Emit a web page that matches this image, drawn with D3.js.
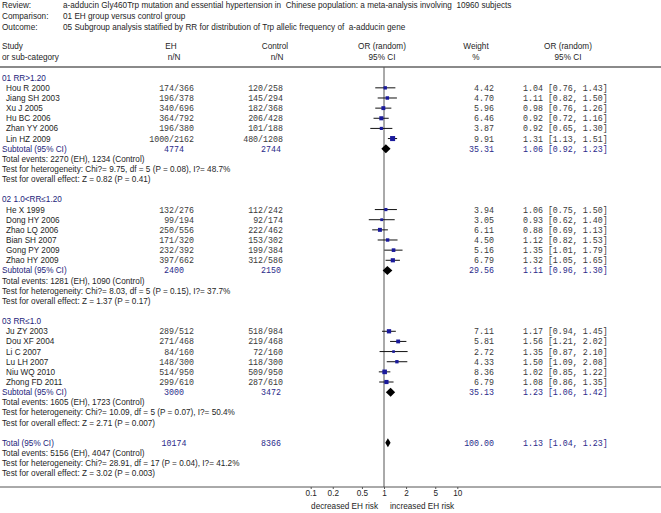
<!DOCTYPE html>
<html>
<head>
<meta charset="utf-8">
<script src="https://cdn.jsdelivr.net/npm/d3@7"></script>
<style>
  body { margin: 0; background: #fff; }
  svg { display: block; }
  text { font-family: "Liberation Sans", Arial, sans-serif; font-size: 8.2px; fill: #1e1e1e; white-space: pre; }
  .mono { font-family: "Liberation Mono", "Courier New", monospace; font-size: 8.3px; fill: #3a3a3a; }
  .navy { fill: #23237a; }
  .mono.navy { fill: #2a2a8a; }
</style>
</head>
<body>
<div id="chart"></div>
<script>
// header text
let reviewText = "a-adducin Gly460Trp mutation and essential hypertension in  Chinese population: a meta-analysis involving  10960 subjects";
let comparisonText = "01 EH group versus control group";
let outcomeText = "05 Subgroup analysis statified by RR for distribution of Trp allelic frequency of  a-adducin gene";

// studies by subgroup
let groupLabels = ["01 RR>1.20", "02 1.0<RR\u22641.20", "03 RR\u22641.0"];
let studyNames = [
    ["Hou R 2000", "Jiang SH 2003", "Xu J 2005", "Hu BC 2006", "Zhan YY 2006", "Lin HZ 2009"],
    ["He X 1999", "Dong HY 2006", "Zhao LQ 2006", "Bian SH 2007", "Gong PY 2009", "Zhao HY 2009"],
    ["Ju ZY 2003", "Dou XF 2004", "Li C 2007", "Lu LH 2007", "Niu WQ 2010", "Zhong FD 2011"]
];
let ehNN = [
    ["174/366", "196/378", "340/696", "364/792", "196/380", "1000/2162"],
    ["132/276", "99/194", "250/556", "171/320", "232/392", "397/662"],
    ["289/512", "271/468", "84/160", "148/300", "514/950", "299/610"]
];
let ctrlNN = [
    ["120/258", "145/294", "182/368", "206/428", "101/188", "480/1208"],
    ["112/242", "92/174", "222/462", "153/302", "199/384", "312/586"],
    ["518/984", "219/468", "72/160", "118/300", "509/950", "287/610"]
];
let weights = [
    [4.42, 4.70, 5.96, 6.46, 3.87, 9.91],
    [3.94, 3.05, 6.11, 4.50, 5.16, 6.79],
    [7.11, 5.81, 2.72, 4.33, 8.36, 6.79]
];
let orEst = [
    [1.04, 1.11, 0.98, 0.92, 0.92, 1.31],
    [1.06, 0.93, 0.88, 1.12, 1.35, 1.32],
    [1.17, 1.56, 1.35, 1.50, 1.02, 1.08]
];
let orLow = [
    [0.76, 0.82, 0.76, 0.72, 0.65, 1.13],
    [0.75, 0.62, 0.69, 0.82, 1.01, 1.05],
    [0.94, 1.21, 0.87, 1.09, 0.85, 0.86]
];
let orHigh = [
    [1.43, 1.50, 1.26, 1.16, 1.30, 1.51],
    [1.50, 1.40, 1.13, 1.53, 1.79, 1.65],
    [1.45, 2.02, 2.10, 2.08, 1.22, 1.35]
];

// subtotals
let subEH = [4774, 2400, 3000];
let subCtrl = [2744, 2150, 3472];
let subWeight = [35.31, 29.56, 35.13];
let subOR = [1.06, 1.11, 1.23];
let subLow = [0.92, 0.96, 1.06];
let subHigh = [1.23, 1.30, 1.42];
let subEvents = ["2270 (EH), 1234 (Control)", "1281 (EH), 1090 (Control)", "1605 (EH), 1723 (Control)"];
let subHet = ["Chi?= 9.75, df = 5 (P = 0.08), I?= 48.7%", "Chi?= 8.03, df = 5 (P = 0.15), I?= 37.7%", "Chi?= 10.09, df = 5 (P = 0.07), I?= 50.4%"];
let subEffect = ["Z = 0.82 (P = 0.41)", "Z = 1.37 (P = 0.17)", "Z = 2.71 (P = 0.007)"];

// overall
let totEH = 10174, totCtrl = 8366, totWeight = 100.00;
let totOR = 1.13, totLow = 1.04, totHigh = 1.23;
let totEvents = "5156 (EH), 4047 (Control)";
let totHet = "Chi?= 28.91, df = 17 (P = 0.04), I?= 41.2%";
let totEffect = "Z = 3.02 (P = 0.003)";

let axisTicks = [0.1, 0.2, 0.5, 1, 2, 5, 10];

function createForest(container){
    let width = 661;
    let height = 513;

    let x = d3.scaleLog().domain([0.1, 10]).range([310.7, 457.3]);
    let row = d3.scaleLinear().domain([0, 39]).range([77.7, 473.3]);
    let axisY = 487;
    let lineTop = 67;

    let col = {label: 2, study: 6, eh: 194, ctrl: 283, ehSub: 174, ctrlSub: 271, weight: 494, ci: 523};

    let svg = d3.select(container)
        .append("svg")
        .attr("width", width)
        .attr("height", height)
        .attr("viewBox", [0, 0, width, height]);

    let txt = (g, xx, yy, s, cls, anchor) => g.append("text")
        .attr("x", xx)
        .attr("y", yy + 3)
        .attr("class", cls || null)
        .attr("text-anchor", anchor || "start")
        .text(s);

    // title block
    let head = svg.append("g");
    [["Review:", reviewText, 5], ["Comparison:", comparisonText, 16], ["Outcome:", outcomeText, 27]]
        .forEach(([k, v, yy]) => {
            txt(head, col.label, yy, k);
            txt(head, 63, yy, v);
        });

    txt(head, col.label, 46, "Study");
    txt(head, col.label, 57, "or sub-category");
    txt(head, 171, 46, "EH", null, "middle");
    txt(head, 174, 57, "n/N", null, "middle");
    txt(head, 275, 46, "Control", null, "middle");
    txt(head, 277, 57, "n/N", null, "middle");
    txt(head, 382, 46, "OR (random)", null, "middle");
    txt(head, 382, 57, "95% CI", null, "middle");
    txt(head, 476, 46, "Weight", null, "middle");
    txt(head, 476, 57, "%", null, "middle");
    txt(head, 568, 46, "OR (random)", null, "middle");
    txt(head, 568, 57, "95% CI", null, "middle");

    svg.append("line")
        .attr("x1", 0).attr("x2", width)
        .attr("y1", lineTop).attr("y2", lineTop)
        .attr("stroke", "#8a8a8a")
        .attr("stroke-width", 2);

    // line of no effect
    svg.append("line")
        .attr("x1", x(1)).attr("x2", x(1))
        .attr("y1", lineTop).attr("y2", axisY)
        .attr("stroke", "#555")
        .attr("stroke-width", 1);

    let fmt = d3.format(".2f");
    let ciText = (o, l, h) => `${fmt(o)} [${fmt(l)}, ${fmt(h)}]`;

    let body = svg.append("g");
    let marks = svg.append("g");

    let diamond = (yy, o, l, h, half) => marks.append("path")
        .attr("d", `M${x(l)},${yy}L${x(o)},${yy - half}L${x(h)},${yy}L${x(o)},${yy + half}Z`)
        .attr("fill", "#000");

    let r = 0;
    groupLabels.forEach((g, gi) => {
        txt(body, col.label, row(r), g, "navy");
        r++;
        studyNames[gi].forEach((name, si) => {
            let yy = row(r);
            txt(body, col.study, yy, name);
            txt(body, col.eh, yy, ehNN[gi][si], "mono", "end");
            txt(body, col.ctrl, yy, ctrlNN[gi][si], "mono", "end");
            txt(body, col.weight, yy, fmt(weights[gi][si]), "mono", "end");
            txt(body, col.ci, yy, ciText(orEst[gi][si], orLow[gi][si], orHigh[gi][si]), "mono");

            marks.append("line")
                .attr("x1", x(orLow[gi][si])).attr("x2", x(orHigh[gi][si]))
                .attr("y1", yy).attr("y2", yy)
                .attr("stroke", "#111")
                .attr("stroke-width", 1);
            let s = Math.sqrt(weights[gi][si]) * 1.6;
            marks.append("rect")
                .attr("x", x(orEst[gi][si]) - s / 2)
                .attr("y", yy - s / 2)
                .attr("width", s).attr("height", s)
                .attr("fill", "#1a1a9c");
            r++;
        });
        let yy = row(r);
        txt(body, col.label, yy, "Subtotal (95% CI)", "navy");
        txt(body, col.ehSub, yy, String(subEH[gi]), "mono navy", "middle");
        txt(body, col.ctrlSub, yy, String(subCtrl[gi]), "mono navy", "middle");
        txt(body, col.weight, yy, fmt(subWeight[gi]), "mono navy", "end");
        txt(body, col.ci, yy, ciText(subOR[gi], subLow[gi], subHigh[gi]), "mono navy");
        diamond(yy, subOR[gi], subLow[gi], subHigh[gi], 4.5);
        r++;
        txt(body, col.label, row(r++), "Total events: " + subEvents[gi]);
        txt(body, col.label, row(r++), "Test for heterogeneity: " + subHet[gi]);
        txt(body, col.label, row(r++), "Test for overall effect: " + subEffect[gi]);
        r++;
    });

    let ty = row(r);
    txt(body, col.label, ty, "Total (95% CI)", "navy");
    txt(body, col.ehSub, ty, String(totEH), "mono navy", "middle");
    txt(body, col.ctrlSub, ty, String(totCtrl), "mono navy", "middle");
    txt(body, col.weight, ty, fmt(totWeight), "mono navy", "end");
    txt(body, col.ci, ty, ciText(totOR, totLow, totHigh), "mono navy");
    diamond(ty, totOR, totLow, totHigh, 4.5);
    r++;
    txt(body, col.label, row(r++), "Total events: " + totEvents);
    txt(body, col.label, row(r++), "Test for heterogeneity: " + totHet);
    txt(body, col.label, row(r++), "Test for overall effect: " + totEffect);

    // bottom axis
    svg.append("line")
        .attr("x1", 0).attr("x2", width)
        .attr("y1", axisY).attr("y2", axisY)
        .attr("stroke", "#555")
        .attr("stroke-width", 1);

    let axis = svg.append("g")
        .attr("transform", `translate(0,${axisY})`)
        .call(d3.axisBottom(x).tickValues(axisTicks).tickSize(2).tickPadding(1).tickFormat(d => String(d)));
    axis.select(".domain").remove();
    axis.selectAll(".tick line").attr("stroke", "#555");
    axis.selectAll(".tick text")
        .attr("font-family", "Liberation Sans, Arial, sans-serif")
        .attr("font-size", "8.2px")
        .style("fill", "#1e1e1e");

    txt(svg, 378, 506, "decreased EH risk", null, "end");
    txt(svg, 390, 506, "increased EH risk");
}

createForest(document.getElementById("chart"));
</script>
</body>
</html>
